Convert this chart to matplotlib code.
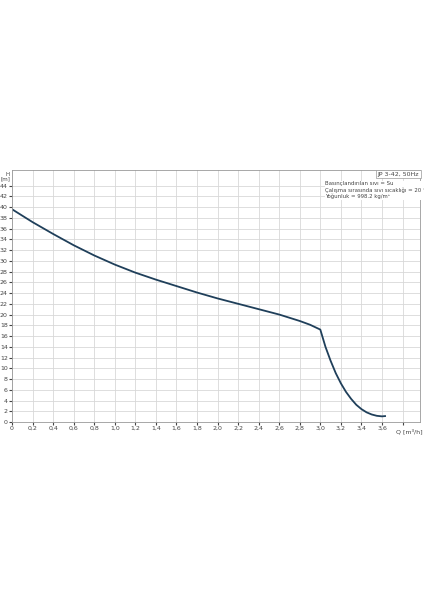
import matplotlib
matplotlib.use('Agg')
import matplotlib.pyplot as plt

# pump curve JP 3-42
q = [0.0, 0.1, 0.2, 0.3, 0.4, 0.6, 0.8, 1.0, 1.2, 1.4, 1.6, 1.8, 2.0, 2.2, 2.4, 2.6, 2.7, 2.8, 2.9, 3.0,
     3.05, 3.1, 3.15, 3.2, 3.25, 3.3, 3.35, 3.4, 3.45, 3.5, 3.55, 3.6, 3.63]
h = [39.6, 38.4, 37.2, 36.1, 35.0, 32.9, 31.0, 29.3, 27.8, 26.5, 25.3, 24.1, 23.0, 22.0, 21.0, 20.0, 19.4, 18.8, 18.1, 17.2,
     14.0, 11.4, 9.1, 7.2, 5.6, 4.3, 3.2, 2.4, 1.8, 1.4, 1.15, 1.05, 1.1]
xticks = [0, 0.2, 0.4, 0.6, 0.8, 1.0, 1.2, 1.4, 1.6, 1.8, 2.0, 2.2, 2.4, 2.6, 2.8, 3.0, 3.2, 3.4, 3.6]
yticks = list(range(0, 46, 2))

fig = plt.figure(figsize=(4.24, 6), dpi=100)
ax = fig.add_axes([12/424, 178/600, 408/424, 252/600])
ax.plot(q, h, color='#1f3f5a', lw=1.3)
ax.set_xlim(0, 3.97)
ax.set_ylim(0, 46.9)
ax.set_xticks([x * 0.1 for x in range(0, 40, 2)])
ax.set_xticklabels([f'{x:.1f}'.replace('.', ',') if x else '0' for x in xticks] + [''])
ax.set_yticks(yticks)
ax.set_yticklabels([str(y) for y in yticks])
ax.tick_params(labelsize=4.5, length=2, pad=1, colors='#444444')
ax.grid(True, color='#d8d8d8', lw=0.6)
for s in ax.spines.values():
    s.set_color('#999999')
    s.set_linewidth(0.6)
ax.text(3.87, -1.3, 'Q [m³/h]', fontsize=4.5, color='#444444', ha='center', va='top')
ax.text(-0.02, 46.6, 'H\n[m]', fontsize=4, color='#444444', ha='right', va='top', linespacing=1.0)
ax.text(3.96, 46.6, 'JP 3-42, 50Hz', fontsize=4.5, color='#444444', ha='right', va='top',
        bbox=dict(boxstyle='square,pad=0.25', fc='white', ec='#999999', lw=0.5))
ax.text(3.05, 44.8, 'Basınçlandırılan sıvı = Su\nÇalışma sırasında sıvı sıcaklığı = 20 °C\nYoğunluk = 998.2 kg/m³',
        fontsize=3.9, color='#444444', ha='left', va='top', linespacing=1.2,
        bbox=dict(fc='white', ec='none', pad=0.5))
fig.savefig('out.png', dpi=100)
